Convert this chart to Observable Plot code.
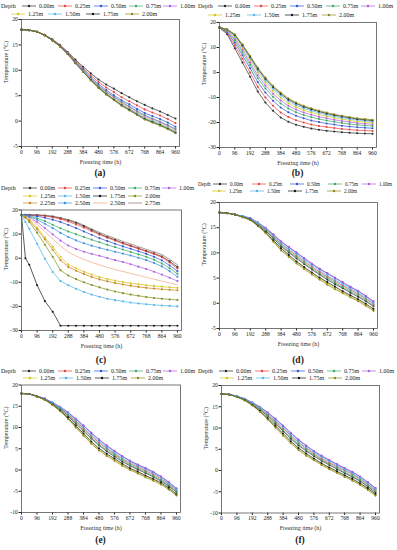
<!DOCTYPE html>
<html><head><meta charset="utf-8">
<script src="https://cdn.jsdelivr.net/npm/d3@7"></script>
<script src="https://cdn.jsdelivr.net/npm/@observablehq/plot@0.6"></script>
<style>
html,body{margin:0;padding:0;background:#fff;}
#root{position:relative;width:397px;height:550px;overflow:hidden;font-family:"Liberation Serif","Times New Roman",serif;color:#222;}
.cell{position:absolute;overflow:hidden;}
.cell svg{position:absolute;left:0;top:0;}
.cap{position:absolute;font-weight:bold;font-size:9.5px;transform:translate(-50%,-50%);white-space:nowrap;}
</style></head><body><div id="root"></div>
<script>
// ---------- data ----------
const times = [0,48,96,144,192,240,288,336,384,432,480,528,576,624,672,720,768,816,864,912,960];
const timesC = [0,24,48,96,144,192,240,288,336,384,432,480,528,576,624,672,720,768,816,864,912,960];
const xTicks = [0,96,192,288,384,480,576,672,768,864,960];
const yTicksA = [-5,0,5,10,15,20];
const yTicksB = [-30,-20,-10,0,10,20];
const yTicksC = [-30,-20,-10,0,10,20];
const yTicksD = [-5,0,5,10,15,20];
const yTicksE = [-10,-5,0,5,10,15,20];
const yTicksF = [-10,-5,0,5,10,15,20];
const depthLabels = ["0.00m","0.25m","0.50m","0.75m","1.00m","1.25m","1.50m","1.75m","2.00m"];
const depthLabelsC = ["0.00m","0.25m","0.50m","0.75m","1.00m","1.25m","1.50m","1.75m","2.00m","2.25m","2.50m","2.50m","2.75m"];

const panelA = [
 [18.0,17.9,17.6,17.0,16.1,15.0,13.6,12.1,10.7,9.4,8.2,7.2,6.4,5.5,4.7,3.9,3.2,2.5,1.9,1.2,0.5],
 [18.0,17.9,17.6,17.0,16.0,14.9,13.5,11.9,10.4,9.0,7.7,6.6,5.7,4.7,3.9,3.1,2.3,1.7,1.1,0.4,-0.4],
 [18.0,17.9,17.6,16.9,16.0,14.8,13.4,11.7,10.2,8.6,7.3,6.1,5.1,4.1,3.3,2.4,1.6,1.0,0.4,-0.3,-1.1],
 [18.0,17.9,17.6,16.9,16.0,14.8,13.3,11.6,10.0,8.4,7.0,5.8,4.8,3.8,2.9,2.0,1.2,0.5,-0.1,-0.8,-1.5],
 [18.0,17.9,17.6,16.9,16.0,14.8,13.3,11.6,9.9,8.3,6.9,5.7,4.7,3.6,2.8,1.9,1.0,0.4,-0.2,-0.9,-1.7],
 [18.0,17.9,17.6,16.9,15.9,14.7,13.3,11.5,9.8,8.2,6.8,5.5,4.4,3.4,2.5,1.6,0.7,0.1,-0.5,-1.2,-2.0],
 [18.0,17.9,17.6,16.9,15.9,14.7,13.2,11.5,9.8,8.1,6.7,5.4,4.3,3.2,2.4,1.5,0.6,0.0,-0.6,-1.3,-2.1],
 [18.0,17.9,17.6,16.9,15.9,14.7,13.2,11.4,9.7,8.1,6.6,5.3,4.2,3.1,2.2,1.3,0.4,-0.2,-0.8,-1.5,-2.3],
 [18.0,17.9,17.6,16.9,15.9,14.7,13.2,11.4,9.7,8.0,6.5,5.2,4.1,3.0,2.1,1.2,0.3,-0.3,-0.9,-1.6,-2.4]
];
const panelB = [
 [18.0,15.3,9.7,4.0,-1.7,-7.6,-12.0,-15.3,-18.0,-19.7,-20.9,-21.7,-22.4,-22.9,-23.3,-23.6,-23.9,-24.1,-24.3,-24.4,-24.5],
 [18.0,15.7,10.8,5.5,0.0,-5.7,-10.0,-13.3,-16.0,-17.8,-19.1,-20.0,-20.8,-21.4,-21.8,-22.2,-22.6,-22.8,-23.1,-23.2,-23.4],
 [18.0,16.1,11.9,6.9,1.7,-3.8,-8.0,-11.3,-14.0,-15.9,-17.3,-18.3,-19.2,-19.8,-20.4,-20.8,-21.3,-21.6,-21.9,-22.1,-22.3],
 [18.0,16.4,12.8,8.1,3.0,-2.2,-6.4,-9.7,-12.4,-14.4,-15.9,-17.0,-17.9,-18.6,-19.2,-19.7,-20.2,-20.6,-20.9,-21.2,-21.4],
 [18.0,16.7,13.5,9.0,4.0,-1.1,-5.2,-8.5,-11.2,-13.3,-14.8,-16.0,-16.9,-17.7,-18.3,-18.9,-19.4,-19.8,-20.2,-20.5,-20.7],
 [18.0,16.9,14.1,9.8,5.0,0.0,-4.1,-7.4,-10.1,-12.3,-13.9,-15.1,-16.0,-16.8,-17.5,-18.1,-18.7,-19.1,-19.6,-19.8,-20.1],
 [18.0,17.1,14.6,10.4,5.7,0.8,-3.2,-6.5,-9.2,-11.4,-13.1,-14.3,-15.3,-16.1,-16.9,-17.5,-18.1,-18.6,-19.0,-19.3,-19.6],
 [18.0,17.2,15.0,10.9,6.3,1.5,-2.5,-5.8,-8.5,-10.8,-12.4,-13.7,-14.7,-15.6,-16.4,-17.0,-17.6,-18.1,-18.6,-18.9,-19.2],
 [18.0,17.3,15.3,11.3,6.7,2.0,-2.0,-5.3,-8.0,-10.3,-12.0,-13.3,-14.3,-15.2,-16.0,-16.7,-17.3,-17.8,-18.3,-18.6,-18.9]
];
const panelC = [
 [18,18,18,17.9,17.7,17.3,16.6,15.7,14.7,13.3,11.7,10.1,8.8,7.6,6.3,5.2,4.1,3.0,2.0,0.7,-1.3,-3.6],
 [18,18,17.9,17.8,17.5,17.0,16.2,15.2,14.0,12.7,11.2,9.8,8.5,7.3,6.1,5.0,3.9,2.8,1.7,0.4,-1.8,-4.3],
 [18,18,17.8,17.4,16.8,16.0,15.0,13.8,12.5,11.1,9.7,8.3,7.1,6.0,4.9,3.9,2.9,1.8,0.6,-0.9,-3.0,-5.4],
 [18,17.9,17.5,16.6,15.4,13.9,12.4,11.1,9.9,8.8,7.7,6.6,5.6,4.6,3.6,2.6,1.6,0.6,-0.6,-2.2,-4.2,-6.5],
 [18,17.7,17.0,15.0,12.5,9.9,7.3,5.3,3.8,2.7,1.8,1.0,0.1,-0.8,-1.6,-2.5,-3.5,-4.5,-5.6,-6.8,-8.1,-9.5],
 [18,17.2,16.0,12.6,8.7,4.7,0.5,-2.6,-4.2,-5.6,-6.8,-7.8,-8.6,-9.3,-9.9,-10.4,-10.8,-11.2,-11.5,-11.8,-12.1,-12.3],
 [18,15.0,12.2,6.0,-0.2,-5.7,-9.5,-11.2,-12.7,-14.0,-15.1,-16.0,-16.8,-17.4,-17.9,-18.4,-18.8,-19.1,-19.4,-19.6,-19.8,-20.0],
 [18,0.0,-2.7,-11.2,-17.8,-22.2,-28,-28,-28,-28,-28,-28,-28,-28,-28,-28,-28,-28,-28,-28,-28,-28],
 [18,16.8,15.0,10.6,5.6,0.6,-5.0,-7.2,-8.7,-10.0,-11.1,-12.1,-13.0,-13.8,-14.5,-15.1,-15.6,-16.1,-16.5,-16.8,-17.1,-17.3],
 [18,17.0,15.6,12.0,7.8,3.5,-0.8,-3.6,-5.2,-6.6,-7.8,-8.8,-9.6,-10.3,-10.9,-11.4,-11.9,-12.3,-12.6,-12.9,-13.1,-13.3],
 [18,17.8,17.3,16.0,14.3,12.5,10.5,8.8,7.4,6.2,5.2,4.3,3.5,2.7,1.9,1.1,0.2,-0.8,-2.0,-3.4,-5.4,-7.7],
 [18,17.5,16.6,14.0,11.0,8.0,5.0,2.6,0.9,-0.5,-1.7,-2.8,-3.8,-4.7,-5.5,-6.3,-7.1,-7.9,-8.7,-9.5,-10.3,-11.0],
 [18,18,18,17.9,17.8,17.4,16.8,16.0,15.0,13.7,12.2,10.7,9.4,8.2,7.0,5.9,4.8,3.7,2.7,1.5,-0.5,-2.7]
];
const panelD = [
 [18,17.9,17.6,17.2,16.7,15.6,14.4,12.9,11.3,10.1,8.9,7.8,6.7,5.7,4.7,3.8,3.0,2.1,1.3,0.4,-0.6],
 [18,17.9,17.6,17.2,16.8,15.8,14.7,13.3,11.8,10.6,9.4,8.3,7.2,6.2,5.3,4.4,3.5,2.7,1.9,0.9,-0.2],
 [18,17.9,17.6,17.3,16.9,16.0,14.9,13.6,12.2,11.1,10.0,8.9,7.8,6.8,5.9,5.0,4.1,3.2,2.4,1.4,0.3],
 [18,17.9,17.6,17.2,16.7,15.7,14.5,13.0,11.5,10.3,9.1,8.0,6.9,5.9,5.0,4.1,3.2,2.4,1.6,0.6,-0.5],
 [18,17.9,17.6,17.3,16.9,16.0,15.0,13.7,12.3,11.2,10.1,9.0,7.9,6.9,6.0,5.1,4.2,3.3,2.5,1.5,0.4],
 [18,17.9,17.6,17.1,16.5,15.4,14.0,12.3,10.6,9.4,8.1,7.0,5.9,4.9,3.9,3.0,2.2,1.4,0.6,-0.3,-1.4],
 [18,17.9,17.6,17.3,16.8,15.9,14.8,13.4,11.9,10.8,9.7,8.6,7.5,6.5,5.5,4.6,3.8,2.9,2.1,1.1,0.0],
 [18,17.9,17.6,17.1,16.6,15.4,14.1,12.5,10.9,9.6,8.3,7.2,6.1,5.1,4.2,3.3,2.4,1.6,0.8,-0.1,-1.1],
 [18,17.9,17.6,17.1,16.5,15.3,13.9,12.2,10.5,9.2,7.9,6.8,5.7,4.7,3.7,2.8,2.0,1.2,0.4,-0.5,-1.5]
];
const panelE = [
 [18,17.9,17.3,16.6,15.6,14.3,12.7,10.9,9.2,7.4,5.8,4.4,3.2,2.0,1.0,0.1,-0.7,-1.6,-2.6,-3.8,-5.2],
 [18,17.9,17.4,16.7,15.7,14.6,13.1,11.5,9.8,8.0,6.4,5.1,3.8,2.6,1.5,0.7,-0.2,-1.0,-2.1,-3.3,-4.8],
 [18,17.9,17.4,16.8,15.9,14.8,13.5,12.0,10.4,8.7,7.1,5.7,4.4,3.2,2.1,1.2,0.4,-0.5,-1.6,-2.9,-4.4],
 [18,17.9,17.4,16.7,15.6,14.4,12.9,11.2,9.4,7.6,6.0,4.7,3.5,2.3,1.2,0.4,-0.5,-1.4,-2.4,-3.6,-5.1],
 [18,17.9,17.4,16.8,15.9,14.9,13.6,12.1,10.5,8.8,7.2,5.8,4.5,3.3,2.2,1.3,0.5,-0.4,-1.5,-2.8,-4.3],
 [18,17.9,17.3,16.5,15.3,13.9,12.1,10.2,8.3,6.4,4.8,3.5,2.4,1.2,0.2,-0.6,-1.5,-2.3,-3.3,-4.5,-5.9],
 [18,17.9,17.4,16.7,15.8,14.7,13.3,11.7,10.0,8.3,6.7,5.3,4.0,2.8,1.8,0.9,0.1,-0.8,-1.9,-3.2,-4.6],
 [18,17.9,17.3,16.6,15.4,14.0,12.3,10.4,8.6,6.7,5.1,3.8,2.7,1.5,0.4,-0.4,-1.3,-2.1,-3.0,-4.2,-5.7],
 [18,17.9,17.3,16.5,15.3,13.8,12.0,10.0,8.1,6.2,4.6,3.3,2.2,1.0,0.0,-0.8,-1.7,-2.5,-3.4,-4.6,-6.0]
];
const panelF = [
 [18,17.9,17.4,16.7,15.6,14.3,12.8,11.0,9.3,7.5,5.9,4.6,3.4,2.3,1.3,0.3,-0.6,-1.5,-2.5,-3.8,-5.1],
 [18,17.9,17.4,16.8,15.8,14.6,13.2,11.6,9.9,8.2,6.6,5.2,3.9,2.8,1.8,0.9,0.0,-0.9,-2.0,-3.3,-4.6],
 [18,17.9,17.5,16.9,16.0,14.9,13.6,12.1,10.5,8.8,7.2,5.8,4.5,3.4,2.4,1.4,0.5,-0.4,-1.5,-2.8,-4.2],
 [18,17.9,17.4,16.7,15.7,14.5,12.9,11.3,9.5,7.8,6.2,4.8,3.6,2.5,1.5,0.6,-0.4,-1.3,-2.3,-3.6,-4.9],
 [18,17.9,17.5,16.9,16.0,15.0,13.7,12.2,10.6,8.9,7.3,5.9,4.6,3.5,2.5,1.5,0.6,-0.3,-1.4,-2.7,-4.1],
 [18,17.9,17.3,16.5,15.4,13.9,12.1,10.3,8.4,6.6,5.0,3.7,2.6,1.5,0.5,-0.4,-1.3,-2.2,-3.2,-4.4,-5.8],
 [18,17.9,17.5,16.8,15.9,14.8,13.4,11.8,10.1,8.4,6.8,5.4,4.2,3.1,2.1,1.1,0.2,-0.7,-1.8,-3.1,-4.5],
 [18,17.9,17.3,16.6,15.4,14.0,12.3,10.5,8.7,6.9,5.3,4.0,2.8,1.7,0.7,-0.2,-1.1,-2.0,-3.0,-4.2,-5.5],
 [18,17.9,17.3,16.5,15.3,13.8,12.0,10.1,8.2,6.4,4.8,3.5,2.4,1.3,0.3,-0.6,-1.5,-2.4,-3.4,-4.6,-5.9]
];

// ---------- styles ----------
const palette = ["#2b2b2b","#e8413c","#2f52d6","#3aa864","#b05de0","#d6c41c","#4fb3e8","#151515","#8c8a1a"];
const paletteC = ["#2b2b2b","#e8413c","#2f52d6","#3aa864","#b05de0","#d6c41c","#4fb3e8","#151515","#7f8f1a","#c8841a","#3a8fe0","#f4a582","#8c6d62"];
const FONT = '"Liberation Serif","Times New Roman",serif';

const panels = [
 {cap:"(a)", left:0, top:0, w:197, h:180, L:21, R:179, T:19, B:146, capY:173, y:[-5,20], yt:yTicksA, t:times, s:panelA, lab:depthLabels, col:palette, noDot:[],
  leg:{font:6, rows:[{y:6, x:[39,75,111,146,180]},{y:14, x:[28,65,103,142]}]}},
 {cap:"(b)", left:197, top:0, w:200, h:180, L:219, R:376, T:22, B:147, capY:173, y:[-30,20], yt:yTicksB, t:times, s:panelB, lab:depthLabels, col:palette, noDot:[],
  leg:{font:6, rows:[{y:6, x:[38,74,110,146,181]},{y:15, x:[28,67,105,142]}]}},
 {cap:"(c)", left:0, top:180, w:197, h:185, L:21, R:181, T:209.5, B:330, capY:360, y:[-30,20], yt:yTicksC, t:timesC, s:panelC, lab:depthLabelsC, col:paletteC, noDot:[11,12],
  leg:{font:6, rows:[{y:8, x:[40,75,110,145,179]},{y:16, x:[40,75,110,145]},{y:23, x:[40,75,110,145]}]}},
 {cap:"(d)", left:197, top:180, w:200, h:185, L:219, R:377, T:202, B:328, capY:360, y:[-5,20], yt:yTicksD, t:times, s:panelD, lab:depthLabels, col:palette, noDot:[],
  leg:{font:5.2, rows:[{y:4, x:[33,72,110,148,182]},{y:11, x:[32,70,108,147]}]}},
 {cap:"(e)", left:0, top:365, w:197, h:185, L:21, R:180, T:384.5, B:512, capY:540, y:[-10,20], yt:yTicksE, t:times, s:panelE, lab:depthLabels, col:palette, noDot:[],
  leg:{font:6, rows:[{y:6, x:[39,75,111,146,180]},{y:13, x:[40,76,112,148]}]}},
 {cap:"(f)", left:197, top:365, w:200, h:185, L:221, R:379, T:385, B:512.5, capY:540, y:[-10,20], yt:yTicksF, t:times, s:panelF, lab:depthLabels, col:palette, noDot:[],
  leg:{font:6, rows:[{y:6, x:[39,75,111,147,182]},{y:13, x:[40,76,112,148]}]}}
];

const root = document.getElementById("root");

for (const p of panels) {
  const cell = document.createElement("div");
  cell.className = "cell";
  Object.assign(cell.style, {left: p.left + "px", top: p.top + "px", width: p.w + "px", height: p.h + "px"});
  root.appendChild(cell);

  const rows = [];
  p.s.forEach((vals, i) => vals.forEach((v, j) => rows.push({t: p.t[j], v, s: String(i)})));
  const keys = p.s.map((_, i) => String(i));
  const mt = p.T - p.top, mb = 24;
  const H = (p.B - p.top) + mb;
  const ml = p.L - p.left, mr = p.w - (p.R - p.left);

  const chart = Plot.plot({
    width: p.w, height: H,
    marginLeft: ml, marginRight: mr, marginTop: mt, marginBottom: mb,
    style: {fontFamily: FONT, fontSize: "5.6px", background: "transparent", color: "#222", overflow: "visible"},
    x: {domain: [0, 985], ticks: xTicks, tickSize: 2.5, tickPadding: 1, tickFormat: d => String(d), label: null},
    y: {domain: p.y, ticks: p.yt, tickSize: 2.5, tickPadding: 1.2, tickFormat: d => String(d), label: null},
    color: {domain: keys, range: p.col},
    marks: [
      Plot.line(rows, {x: "t", y: "v", z: "s", stroke: "s", strokeWidth: 0.7}),
      Plot.dot(rows.filter(d => !p.noDot.includes(+d.s)), {x: "t", y: "v", fill: "s", r: 1.05}),
      Plot.frame({stroke: "#555", strokeWidth: 0.8}),
      Plot.text(["Freezing time (h)"], {text: d => d, frameAnchor: "bottom", dy: 17, fontSize: 6, fill: "#333"}),
      Plot.text(["Temperature (°C)"], {text: d => d, frameAnchor: "left", rotate: -90, dx: -15, fontSize: 6, fill: "#333"})
    ]
  });
  cell.appendChild(chart);

  // legend
  const lg = d3.select(cell).append("svg")
    .attr("width", p.w).attr("height", 30)
    .style("overflow", "visible")
    .attr("font-family", FONT).attr("font-size", p.leg.font).attr("fill", "#222");
  lg.append("text").attr("x", 1).attr("y", p.leg.rows[0].y).attr("dominant-baseline", "central").text("Depth");
  let idx = 0;
  for (const r of p.leg.rows) {
    for (const tx of r.x) {
      const i = idx++;
      if (i >= p.lab.length) break;
      const x1 = tx - 17, x2 = tx - 3, c = p.col[i];
      lg.append("line").attr("x1", x1).attr("x2", x2).attr("y1", r.y).attr("y2", r.y)
        .attr("stroke", c).attr("stroke-width", 0.7);
      if (!p.noDot.includes(i)) lg.append("circle").attr("cx", (x1 + x2) / 2).attr("cy", r.y).attr("r", 1.2).attr("fill", c);
      lg.append("text").attr("x", tx).attr("y", r.y).attr("dominant-baseline", "central").text(p.lab[i]);
    }
  }

  const cap = document.createElement("div");
  cap.className = "cap";
  cap.textContent = p.cap;
  cap.style.left = ((p.L + p.R) / 2 - p.left) + "px";
  cap.style.top = (p.capY - p.top) + "px";
  cell.appendChild(cap);
}
</script>
</body></html>
